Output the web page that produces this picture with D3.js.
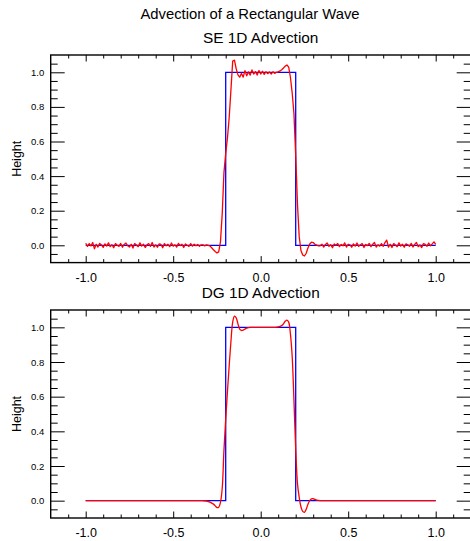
<!DOCTYPE html>
<html>
<head>
<meta charset="utf-8">
<script src="https://cdn.jsdelivr.net/npm/d3@7"></script>
<style>
  body { margin: 0; background: #fff; }
  svg { display: block; font-family: "Liberation Sans", Arial, sans-serif; }
</style>
</head>
<body>
<div id="chart"></div>
<script>
// tick values / labels
var xMajor = [-1.0, -0.5, 0.0, 0.5, 1.0];
var xMinor = [-1.1, -0.9, -0.8, -0.7, -0.6, -0.4, -0.3, -0.2, -0.1, 0.1, 0.2, 0.3, 0.4, 0.6, 0.7, 0.8, 0.9, 1.1];
var yMajor = [0.0, 0.2, 0.4, 0.6, 0.8, 1.0];
var yMinor = [-0.05, 0.05, 0.1, 0.15, 0.25, 0.3, 0.35, 0.45, 0.5, 0.55, 0.65, 0.7, 0.75, 0.85, 0.9, 0.95, 1.05];

// exact rectangular wave (blue)
var waveX = [-1.0, -0.2, -0.2, 0.2, 0.2, 1.0];
var waveY = [0, 0, 1, 1, 0, 0];

// SE solution, sampled every 0.01 from -1.0 to 1.0
var seStart = -1.0, seStep = 0.01;
var seY = [
  0.012,-0.006,0.010,-0.004,0.016,-0.020,0.006,-0.010,0.011,0.002,
  -0.012,0.008,-0.005,0.014,-0.008,0.003,-0.014,0.010,0.000,-0.006,
  0.011,-0.011,0.005,0.013,-0.003,-0.010,0.006,-0.016,0.010,0.002,
  -0.008,0.014,-0.005,0.006,-0.013,0.003,0.010,-0.006,0.016,-0.010,
  0.002,-0.011,0.008,0.005,-0.014,0.010,-0.003,0.006,-0.008,0.013,
  -0.005,0.003,-0.010,0.011,-0.002,0.006,-0.013,0.008,0.000,-0.006,
  0.010,-0.005,0.006,-0.003,0.005,-0.006,0.003,0.002,-0.003,0.003,
  0.000,-0.004,-0.014,-0.026,-0.036,-0.044,-0.038,0.020,0.180,0.420,
  0.530,0.620,0.740,0.900,1.065,1.070,1.020,0.985,0.972,0.995,
  0.972,1.010,0.980,1.002,0.984,1.014,0.990,1.004,0.984,1.010,
  0.990,1.006,0.988,1.003,0.992,1.002,0.990,1.003,0.994,1.000,
  1.003,1.008,1.015,1.025,1.036,1.042,1.030,0.970,0.880,0.760,
  0.520,0.240,0.050,-0.030,-0.056,-0.062,-0.046,-0.016,0.008,0.018,
  0.016,0.006,0.001,-0.003,
  -0.003,0.006,-0.010,0.005,0.013,-0.006,0.003,-0.014,0.008,0.000,
  0.010,-0.008,0.005,-0.003,0.014,-0.010,0.006,0.002,-0.011,0.008,
  -0.005,0.013,-0.006,0.003,0.010,-0.013,0.005,-0.002,0.011,-0.008,
  0.006,0.016,-0.010,0.003,-0.005,0.010,-0.006,0.016,0.030,-0.010,
  0.006,-0.013,0.010,0.002,-0.008,0.014,-0.005,0.006,-0.011,0.008,
  0.003,-0.006,0.011,-0.010,0.005,0.016,-0.008,0.002,-0.013,0.010,
  0.005,-0.006,0.013,-0.003,0.008,0.020,0.006
];
var seX = seY.map(function(d, i) { return seStart + i * seStep; });

// DG solution (smooth)
var dgX = [-1.0, -0.40, -0.34, -0.31, -0.29, -0.27, -0.26, -0.25, -0.24, -0.23, -0.22, -0.21, -0.20,
           -0.19, -0.18, -0.17, -0.16, -0.15, -0.14, -0.13, -0.12, -0.11, -0.10, -0.09, -0.08, -0.06,
           -0.04, 0.0, 0.04, 0.08, 0.10, 0.12, 0.13, 0.14, 0.15, 0.16, 0.17, 0.18, 0.19, 0.20, 0.21,
           0.22, 0.23, 0.24, 0.25, 0.26, 0.27, 0.28, 0.29, 0.30, 0.31, 0.32, 0.34, 0.37, 0.40, 1.0];
var dgY = [0, 0, 0, -0.002, -0.008, -0.020, -0.030, -0.040, -0.038, -0.010, 0.070, 0.290, 0.470,
           0.630, 0.780, 0.920, 1.030, 1.065, 1.055, 1.020, 0.990, 0.982, 0.984, 0.990, 0.995, 1.0,
           1.0, 1.0, 1.0, 1.0, 1.002, 1.010, 1.020, 1.035, 1.042, 1.030, 0.960, 0.830, 0.580, 0.300, 0.100,
           0.020, -0.035, -0.062, -0.067, -0.050, -0.020, 0.0, 0.010, 0.011, 0.007, 0.003, 0.0, 0.0, 0, 0];

var W = 470, H = 541;
var svg = d3.select("#chart").append("svg").attr("width", W).attr("height", H);

// plain hyphen for negatives, as in the original
var fmt = function(d) { return d3.format(".1f")(d).replace("\u2212", "-"); };

svg.append("text")
   .attr("x", 250).attr("y", 19)
   .attr("text-anchor", "middle")
   .style("font-size", "14.8px")
   .text("Advection of a Rectangular Wave");

function drawPanel(top, bottom, title, redX, redY, curve) {
  var left = 50.7, right = 470.7;
  var x = d3.scaleLinear().domain([-1.2, 1.2]).range([left, right]);
  var y = d3.scaleLinear().domain([-0.1, 1.1]).range([bottom, top]);
  var g = svg.append("g");

  // curves
  var line = d3.line()
      .x(function(d) { return x(d[0]); })
      .y(function(d) { return y(d[1]); });
  g.append("path")
   .datum(d3.zip(waveX, waveY))
   .attr("fill", "none").attr("stroke", "#0000ff").attr("stroke-width", 1.3)
   .attr("d", line);
  g.append("path")
   .datum(d3.zip(redX, redY))
   .attr("fill", "none").attr("stroke", "#ff0000").attr("stroke-width", 1.3)
   .attr("stroke-linejoin", "round")
   .attr("d", line.curve(curve));

  // bottom axis with labels
  var bx = g.append("g").attr("transform", "translate(0," + bottom + ")")
    .call(d3.axisBottom(x).tickValues(xMajor).tickSize(-6.5).tickPadding(10.5).tickFormat(fmt));
  bx.selectAll("text").style("font-size", "12.5px").attr("fill", "#000");
  g.append("g").attr("transform", "translate(0," + bottom + ")")
    .call(d3.axisBottom(x).tickValues(xMinor).tickSize(-3.5).tickFormat(""));
  // top axis ticks
  g.append("g").attr("transform", "translate(0," + top + ")")
    .call(d3.axisTop(x).tickValues(xMajor).tickSize(-6.5).tickFormat(""));
  g.append("g").attr("transform", "translate(0," + top + ")")
    .call(d3.axisTop(x).tickValues(xMinor).tickSize(-3.5).tickFormat(""));

  // left axis with labels
  var ly = g.append("g").attr("transform", "translate(" + left + ",0)")
    .call(d3.axisLeft(y).tickValues(yMajor).tickSize(-14).tickPadding(6.5).tickFormat(fmt));
  ly.selectAll("text").style("font-size", "9.5px").attr("fill", "#000");
  g.append("g").attr("transform", "translate(" + left + ",0)")
    .call(d3.axisLeft(y).tickValues(yMinor).tickSize(-7).tickFormat(""));
  // right axis ticks
  g.append("g").attr("transform", "translate(" + right + ",0)")
    .call(d3.axisRight(y).tickValues(yMajor).tickSize(-14).tickFormat(""));
  g.append("g").attr("transform", "translate(" + right + ",0)")
    .call(d3.axisRight(y).tickValues(yMinor).tickSize(-7).tickFormat(""));

  g.selectAll(".domain").remove();
  g.selectAll(".tick line").attr("stroke", "#000").attr("stroke-width", 1);

  // frame
  g.append("rect")
   .attr("x", left).attr("y", top)
   .attr("width", right - left).attr("height", bottom - top)
   .attr("fill", "none").attr("stroke", "#000").attr("stroke-width", 1.4);

  // y label
  g.append("text")
   .attr("transform", "translate(21," + ((top + bottom) / 2) + ") rotate(-90)")
   .attr("text-anchor", "middle")
   .style("font-size", "12.5px")
   .text("Height");

  // panel title
  g.append("text")
   .attr("x", (left + right) / 2).attr("y", top - 12)
   .attr("text-anchor", "middle")
   .style("font-size", "15.4px")
   .text(title);
}

drawPanel(55, 262.6, "SE 1D Advection", seX, seY, d3.curveLinear);
drawPanel(310, 518, "DG 1D Advection", dgX, dgY, d3.curveCatmullRom.alpha(0.5));
</script>
</body>
</html>
